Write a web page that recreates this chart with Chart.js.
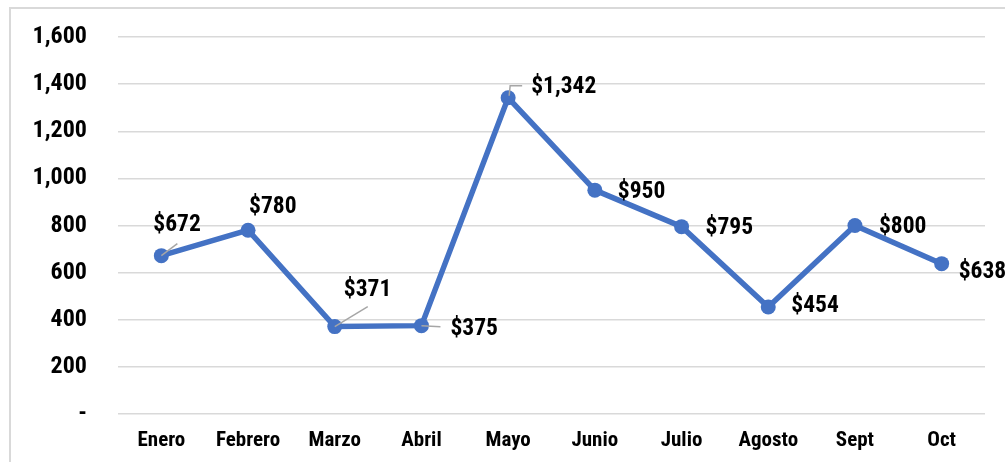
<!DOCTYPE html>
<html>
<head>
<meta charset="utf-8">
<script src="https://cdn.jsdelivr.net/npm/chart.js@4/dist/chart.umd.min.js"></script>
<style>
  html, body { margin: 0; padding: 0; background: #ffffff; }
  #wrap { width: 1005px; height: 462px; position: relative; }
</style>
</head>
<body>
<div id="wrap"><canvas id="c" width="1005" height="462"></canvas></div>
<script>
// ---- data ----
const categories = ["Enero", "Febrero", "Marzo", "Abril", "Mayo", "Junio", "Julio", "Agosto", "Sept", "Oct"];
const values = [672, 780, 371, 375, 1342, 950, 795, 454, 800, 638];
const yTicks = [0, 200, 400, 600, 800, 1000, 1200, 1400, 1600];

// ---- styling (not data) ----
const FONT = '"Liberation Sans Narrow", "Arial Narrow", "Roboto Condensed", "Liberation Sans", sans-serif';
const BLUE = '#4472C4';
// label offsets: [dx to text left edge, dy to text middle] relative to the point
const labelOffsets = [[-8,-31],[1,-23],[9,-36],[29,3],[23,-11],[23,2],[24,1],[23,-1],[24,2],[17,8]];
// leader lines: null or list of points relative to the point
const leaders = [
  [[0,0],[16,-12]],
  null,
  [[0,0],[33,-20]],
  [[0,0],[19,1]],
  [[1,-2],[2,-12],[14,-12]],
  null, null, null, null, null
];

const fmt = v => v === 0 ? '-' : v.toLocaleString('en-US');
const money = v => '$' + v.toLocaleString('en-US');

const framePlugin = {
  id: 'frame',
  beforeDraw(chart) {
    const ctx = chart.ctx;
    ctx.save();
    ctx.strokeStyle = '#d9d9d9';
    ctx.lineWidth = 2;
    ctx.beginPath();
    ctx.moveTo(10, 470);
    ctx.lineTo(10, 8);
    ctx.lineTo(1010, 8);
    ctx.stroke();
    ctx.restore();
  }
};

const labelPlugin = {
  id: 'dataLabels',
  afterDatasetsDraw(chart) {
    const ctx = chart.ctx;
    const meta = chart.getDatasetMeta(0);
    ctx.save();
    meta.data.forEach((pt, i) => {
      const ld = leaders[i];
      if (ld) {
        ctx.strokeStyle = '#a6a6a6';
        ctx.lineWidth = 1.5;
        ctx.beginPath();
        ld.forEach((p, k) => {
          const x = pt.x + p[0], y = pt.y + p[1];
          if (k === 0) ctx.moveTo(x, y); else ctx.lineTo(x, y);
        });
        ctx.stroke();
      }
    });
    ctx.fillStyle = '#000000';
    ctx.font = 'bold 23.5px ' + FONT;
    ctx.textAlign = 'left';
    ctx.textBaseline = 'middle';
    meta.data.forEach((pt, i) => {
      const o = labelOffsets[i];
      ctx.fillText(money(values[i]), pt.x + o[0], pt.y + o[1]);
    });
    ctx.restore();
  }
};

new Chart(document.getElementById('c'), {
  type: 'line',
  data: {
    labels: categories,
    datasets: [{
      data: values,
      borderColor: BLUE,
      backgroundColor: BLUE,
      borderWidth: 5.5,
      pointRadius: 7.5,
      pointHoverRadius: 7.5,
      pointBackgroundColor: BLUE,
      pointBorderColor: BLUE,
      pointBorderWidth: 0,
      tension: 0
    }]
  },
  options: {
    responsive: false,
    animation: false,
    events: [],
    layout: { padding: { top: 37, right: 20, left: 0, bottom: 0 } },
    plugins: { legend: { display: false }, tooltip: { enabled: false } },
    scales: {
      x: {
        offset: true,
        grid: { display: false, drawTicks: false },
        border: { display: false },
        ticks: {
          color: '#000000',
          font: { family: FONT, size: 21, weight: 'bold' },
          padding: 14,
          maxRotation: 0,
          autoSkip: false
        },
        afterFit(s) { s.height = 48; s.paddingLeft = 0; s.paddingRight = 0; }
      },
      y: {
        min: 0,
        max: 1600,
        afterBuildTicks(s) { s.ticks = yTicks.map(v => ({ value: v })); },
        grid: { color: '#d9d9d9', lineWidth: 1.5, drawTicks: false },
        border: { display: false },
        ticks: {
          color: '#000000',
          font: { family: FONT, size: 24, weight: 'bold' },
          padding: 31,
          callback: v => fmt(v)
        },
        afterFit(s) { s.width = 118; s.paddingTop = 0; s.paddingBottom = 0; }
      }
    }
  },
  plugins: [framePlugin, labelPlugin]
});
</script>
</body>
</html>
